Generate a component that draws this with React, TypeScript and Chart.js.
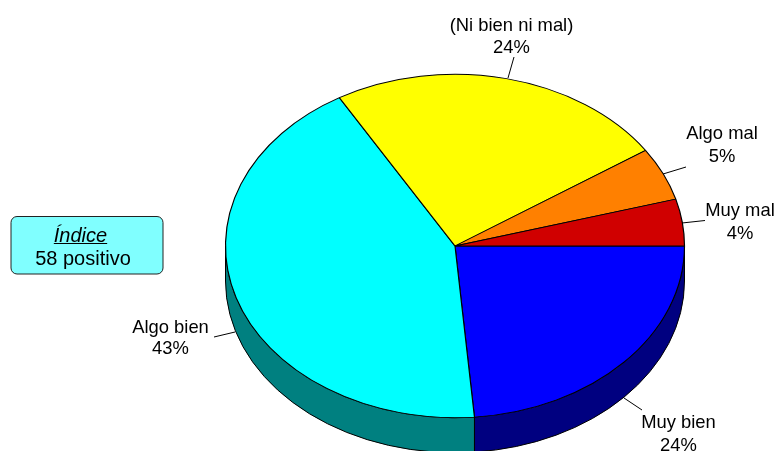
import React, { useEffect, useRef } from "react";
import { Chart, registerables } from "chart.js";

Chart.register(...registerables);

const categories = ["Muy bien", "Algo bien", "(Ni bien ni mal)", "Algo mal", "Muy mal"];
const values = [23.65, 42.95, 24.0, 5.0, 4.4];
const percentLabels = ["24%", "43%", "24%", "5%", "4%"];
const topColors = ["#0000FF", "#00FFFF", "#FFFF00", "#FF8000", "#D00000"];
const wallColors = ["#000080", "#008080", "#808000", "#804000", "#680000"];
const indexTitle = "Índice";
const indexText = "58 positivo";

const W = 777;
const H = 451;
const CX = 455;
const CY = 246;
const RX = 229.5;
const RY = 171.7;
const DEPTH = 35;
const FONT = '"Liberation Sans", Arial, sans-serif';
// [centre x, first baseline, second baseline, leader x1, y1, x2, y2] by category
const labelLayout = [
  [678.5, 428, 451, 624, 398, 642, 410],
  [170.5, 333, 354, 214, 337, 235, 332],
  [511.5, 31, 52.5, 508, 78, 514, 57],
  [722, 139, 162, 663, 174, 686, 167],
  [740, 216, 238.5, 682, 223, 705, 220.5],
];

const pie3d = {
  id: "pie3d",
  beforeDatasetsDraw(chart: any) {
    const ctx = chart.ctx;
    const arcs = chart.getDatasetMeta(0).data;
    ctx.save();
    ctx.strokeStyle = "#000";
    ctx.lineWidth = 1;
    arcs.forEach((arc: any, i: number) => {
      const a = Math.max(arc.startAngle, 0);
      const b = Math.min(arc.endAngle, Math.PI);
      if (b <= a) return;
      ctx.beginPath();
      ctx.ellipse(CX, CY, RX, RY, 0, a, b, false);
      ctx.ellipse(CX, CY + DEPTH, RX, RY, 0, b, a, true);
      ctx.closePath();
      ctx.fillStyle = wallColors[i];
      ctx.fill();
      ctx.stroke();
    });
    ctx.restore();
    const first = arcs[0];
    const r = first.outerRadius;
    ctx.save();
    ctx.translate(CX, CY);
    ctx.scale(RX / r, RY / r);
    ctx.translate(-first.x, -first.y);
  },
  afterDatasetsDraw(chart: any) {
    chart.ctx.restore();
  },
  afterDraw(chart: any) {
    const ctx = chart.ctx;
    ctx.save();
    ctx.strokeStyle = "#000";
    ctx.lineWidth = 1;
    ctx.fillStyle = "#000";
    ctx.textAlign = "center";
    ctx.textBaseline = "alphabetic";
    ctx.font = `18.4px ${FONT}`;
    categories.forEach((name, i) => {
      const [x, y1, y2, lx1, ly1, lx2, ly2] = labelLayout[i];
      ctx.beginPath();
      ctx.moveTo(lx1, ly1);
      ctx.lineTo(lx2, ly2);
      ctx.stroke();
      ctx.fillText(name, x, y1);
      ctx.fillText(percentLabels[i], x, y2);
    });
    // index box
    ctx.beginPath();
    ctx.roundRect(11, 216.5, 152, 57.5, 6);
    ctx.fillStyle = "#80FFFF";
    ctx.fill();
    ctx.strokeStyle = "#222";
    ctx.stroke();
    ctx.fillStyle = "#000";
    ctx.font = `italic 20px ${FONT}`;
    ctx.fillText(indexTitle, 80.5, 241.5);
    const tw = ctx.measureText(indexTitle).width;
    ctx.beginPath();
    ctx.moveTo(80.5 - tw / 2, 243.5);
    ctx.lineTo(80.5 + tw / 2, 243.5);
    ctx.strokeStyle = "#000";
    ctx.stroke();
    ctx.font = `20px ${FONT}`;
    ctx.fillText(indexText, 83, 265);
    ctx.restore();
  },
};

export default function App() {
  const ref = useRef<HTMLCanvasElement | null>(null);
  useEffect(() => {
    const chart = new Chart(ref.current as HTMLCanvasElement, {
      type: "pie",
      data: {
        labels: categories,
        datasets: [
          {
            data: values,
            backgroundColor: topColors,
            borderColor: "#000",
            borderWidth: 1.15,
            clip: false,
          } as any,
        ],
      },
      options: {
        responsive: false,
        animation: false,
        rotation: 90,
        layout: { padding: 0 },
        plugins: { legend: { display: false }, tooltip: { enabled: false } },
      },
      plugins: [pie3d],
    } as any);
    return () => chart.destroy();
  }, []);
  return (
    <div style={{ position: "fixed", left: 0, top: 0, width: W, height: H, overflow: "hidden", background: "#fff" }}>
      <canvas ref={ref} width={W} height={H} style={{ display: "block" }} />
    </div>
  );
}
